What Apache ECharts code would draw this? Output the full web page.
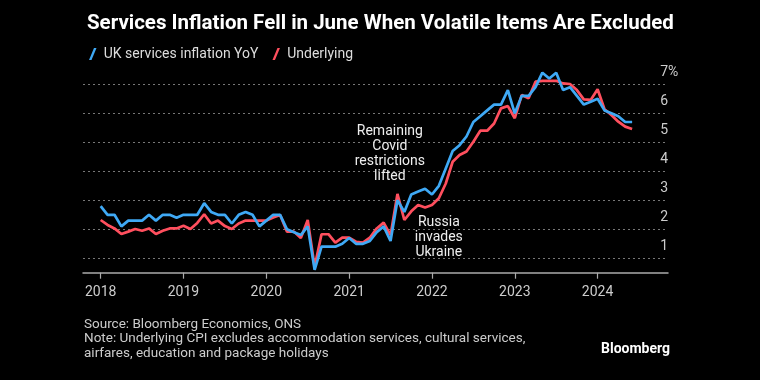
<!DOCTYPE html>
<html><head><meta charset="utf-8">
<script src="https://cdn.jsdelivr.net/npm/echarts@6/dist/echarts.min.js"></script>
<style>html,body{margin:0;padding:0;background:#000;}#c{width:760px;height:380px;}</style>
</head><body><div id="c"></div>
<script>
// Monthly data, Jan 2018 .. Jun 2024 (index 0 = Jan 2018)
const startYear = 2018;
const yearTicks = ['2018', '2019', '2020', '2021', '2022', '2023', '2024'];
const servicesYoY = [
  2.8, 2.5, 2.5, 2.1, 2.3, 2.3, 2.3, 2.5, 2.3, 2.5, 2.5, 2.4,
  2.5, 2.5, 2.5, 2.9, 2.6, 2.5, 2.5, 2.2, 2.5, 2.6, 2.5, 2.1,
  2.3, 2.5, 2.5, 2.0, 1.9, 1.8, 2.1, 0.6, 1.4, 1.4, 1.4, 1.5,
  1.7, 1.5, 1.5, 1.6, 1.9, 2.1, 1.6, 3.0, 2.6, 3.2, 3.3, 3.4,
  3.2, 3.5, 4.1, 4.7, 4.9, 5.2, 5.7, 5.9, 6.1, 6.3, 6.3, 6.8,
  6.0, 6.6, 6.6, 6.9, 7.4, 7.2, 7.4, 6.8, 6.9, 6.6, 6.3, 6.4,
  6.5, 6.1, 6.0, 5.9, 5.7, 5.7
];
const underlying = [
  2.32, 2.15, 2.03, 1.84, 1.92, 2.01, 1.95, 2.03, 1.84, 1.95, 2.03, 2.03,
  2.12, 2.01, 2.22, 2.52, 2.20, 2.30, 2.11, 2.01, 2.20, 2.30, 2.30, 2.30,
  2.30, 2.41, 2.49, 1.92, 1.92, 1.70, 2.32, 0.71, 1.83, 1.83, 1.54, 1.71,
  1.71, 1.57, 1.54, 1.71, 2.03, 2.23, 1.80, 3.22, 2.32, 2.62, 2.84, 2.75,
  2.84, 3.07, 3.58, 4.33, 4.56, 4.68, 5.02, 5.40, 5.40, 5.65, 6.17, 6.25,
  5.83, 6.63, 6.52, 7.09, 7.12, 7.12, 7.12, 7.03, 7.01, 6.80, 6.48, 6.46,
  6.83, 6.14, 5.94, 5.71, 5.54, 5.46
];
const yTicks = [1, 2, 3, 4, 5, 6, 7];
const annotations = [
  { text: 'Remaining\nCovid\nrestrictions\nlifted', month: 41.9, value: 4.6 },
  { text: 'Russia\ninvades\nUkraine', month: 49.0, value: 1.72 }
];

const FONT = 'Roboto';
const BLUE = '#3fa9f5';
const RED = '#ff4f5e';
const chart = echarts.init(document.getElementById('c'), null, { renderer: 'canvas' });
const tickMonths = yearTicks.map((y, i) => i * 12);
const slash = 'path://M0,12 L5,0 L7.5,0 L2.5,12 Z';
const topTick = yTicks[yTicks.length - 1];

const yBase = {
  type: 'value', position: 'right', min: 0, max: 7.5, interval: 1,
  axisLine: { show: false }, axisTick: { show: false }
};

chart.setOption({
  backgroundColor: '#000',
  animation: false,
  textStyle: { fontFamily: FONT },
  title: {
    text: 'Services Inflation Fell in June When Volatile Items Are Excluded',
    left: 82, top: 8,
    textStyle: { color: '#fff', fontSize: 20.5, fontWeight: 'bold', fontFamily: FONT }
  },
  legend: {
    left: 84, top: 42, itemWidth: 8, itemHeight: 12, itemGap: 14,
    icon: slash,
    textStyle: { color: '#ddd', fontSize: 14, fontFamily: FONT, padding: [0, 0, 0, 2] },
    data: [
      { name: 'UK services inflation YoY', itemStyle: { color: BLUE } },
      { name: 'Underlying', itemStyle: { color: RED } }
    ]
  },
  grid: { left: 83, right: 92, top: 69.8, bottom: 92.7, containLabel: false },
  xAxis: {
    type: 'value', min: -2.56, max: 82.2, offset: -14.6,
    axisLine: { show: true, onZero: false, lineStyle: { color: '#aaa', width: 1.5 } },
    axisTick: { show: true, length: 6, lineStyle: { color: '#aaa', width: 1.2 }, customValues: tickMonths },
    axisLabel: {
      customValues: tickMonths, color: '#ccc', fontSize: 14, margin: 13, fontFamily: FONT,
      formatter: v => yearTicks[Math.round(v / 12)]
    },
    splitLine: { show: false }
  },
  yAxis: [
    Object.assign({}, yBase, {
      axisLabel: {
        inside: true, margin: 0, verticalAlign: 'bottom', align: 'right', padding: [0, 0, 5, 0],
        color: '#ccc', fontSize: 14, fontFamily: FONT,
        formatter: v => (yTicks.includes(v) ? String(v) : '')
      },
      splitLine: {
        show: true,
        lineStyle: {
          type: [2, 3], width: 1,
          color: ['rgba(0,0,0,0)', '#777', '#777', '#777', '#777', '#777', '#777', '#777', 'rgba(0,0,0,0)']
        }
      }
    }),
    Object.assign({}, yBase, {
      axisLabel: {
        inside: false, margin: 0, verticalAlign: 'bottom', align: 'left', padding: [0, 0, 5, 0],
        color: '#ccc', fontSize: 14, fontFamily: FONT,
        formatter: v => (v === topTick ? '%' : '')
      },
      splitLine: { show: false }
    })
  ],
  series: [
    {
      name: 'Underlying', type: 'line', showSymbol: false, symbol: 'none', clip: false,
      data: underlying.map((v, i) => [i, v]),
      lineStyle: { color: RED, width: 2.7 }, itemStyle: { color: RED }
    },
    {
      name: 'UK services inflation YoY', type: 'line', showSymbol: false, symbol: 'none', clip: false,
      data: servicesYoY.map((v, i) => [i, v]),
      lineStyle: { color: BLUE, width: 2.7 }, itemStyle: { color: BLUE },
      markPoint: {
        symbol: 'circle', symbolSize: 1, itemStyle: { color: 'rgba(0,0,0,0)' },
        label: {
          show: true, position: 'inside', color: '#eee', fontSize: 14, lineHeight: 15,
          fontFamily: FONT, align: 'center', verticalAlign: 'middle'
        },
        data: annotations.map(a => ({ coord: [a.month, a.value], label: { formatter: a.text } }))
      }
    }
  ],
  graphic: [
    {
      type: 'text', left: 84, top: 317,
      style: {
        text: 'Source: Bloomberg Economics, ONS\nNote: Underlying CPI excludes accommodation services, cultural services,\nairfares, education and package holidays',
        fill: '#ccc', fontSize: 13.5, lineHeight: 14.5, fontFamily: FONT
      }
    },
    {
      type: 'text', right: 90, top: 342,
      style: { text: 'Bloomberg', fill: '#fff', fontSize: 14, fontWeight: 'bold', fontFamily: FONT }
    }
  ]
});
</script>
</body></html>
